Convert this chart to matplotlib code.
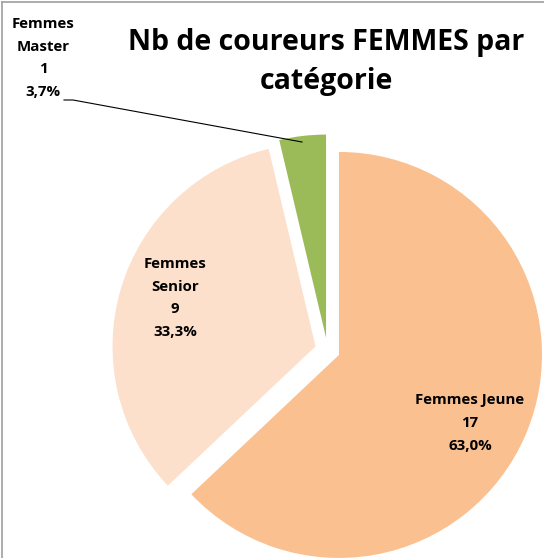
import matplotlib
matplotlib.use("Agg")
import matplotlib.pyplot as plt

# Données du graphique
categories = ["Femmes Jeune", "Femmes Senior", "Femmes Master"]
counts = [17, 9, 1]
colors = ["#FAC090", "#FCE0CB", "#9BBB59"]
title = "Nb de coureurs FEMMES par\ncatégorie"

W, H = 544, 558
plt.rcParams['font.family'] = ['Open Sans', 'DejaVu Sans']

fig = plt.figure(figsize=(W / 100, H / 100), dpi=100)
ax = fig.add_axes([0, 0, 1, 1])

# camembert éclaté, sens horaire depuis le haut
radius = 203
ax.pie(counts, colors=colors, startangle=90, counterclock=False,
       radius=radius, center=(327.5, H - 350), explode=[12.5] * len(counts),
       wedgeprops=dict(linewidth=0), frame=True)
ax.set_xlim(0, W)
ax.set_ylim(0, H)
ax.set_aspect('equal')
ax.axis('off')

total = sum(counts)
label_pos = [(470, 423), (175, 298), (43, 58)]
wrap = {"Femmes Senior", "Femmes Master"}
for cat, n, (x, y) in zip(categories, counts, label_pos):
    name = cat.replace(" ", "\n") if cat in wrap else cat
    pct = f"{n / total * 100:.1f}%".replace(".", ",")
    ax.text(x, H - y, f"{name}\n{n}\n{pct}", ha='center', va='center',
            fontsize=10.8, fontweight='bold', linespacing=1.8)

# ligne de rappel pour la petite part
ax.plot([64, 73, 302], [H - 100, H - 100, H - 142], color='black', lw=0.8)

ax.text(326, H - 62, title, ha='center', va='center', fontsize=20.5,
        fontweight='bold', linespacing=1.45)

# bordure grise (haut et gauche)
ax.plot([1.5, 1.5], [0, H - 1.5], color='#A6A6A6', lw=1.3, clip_on=False)
ax.plot([1.5, W], [H - 1.5, H - 1.5], color='#A6A6A6', lw=1.3, clip_on=False)

fig.savefig("out.png", dpi=100)
